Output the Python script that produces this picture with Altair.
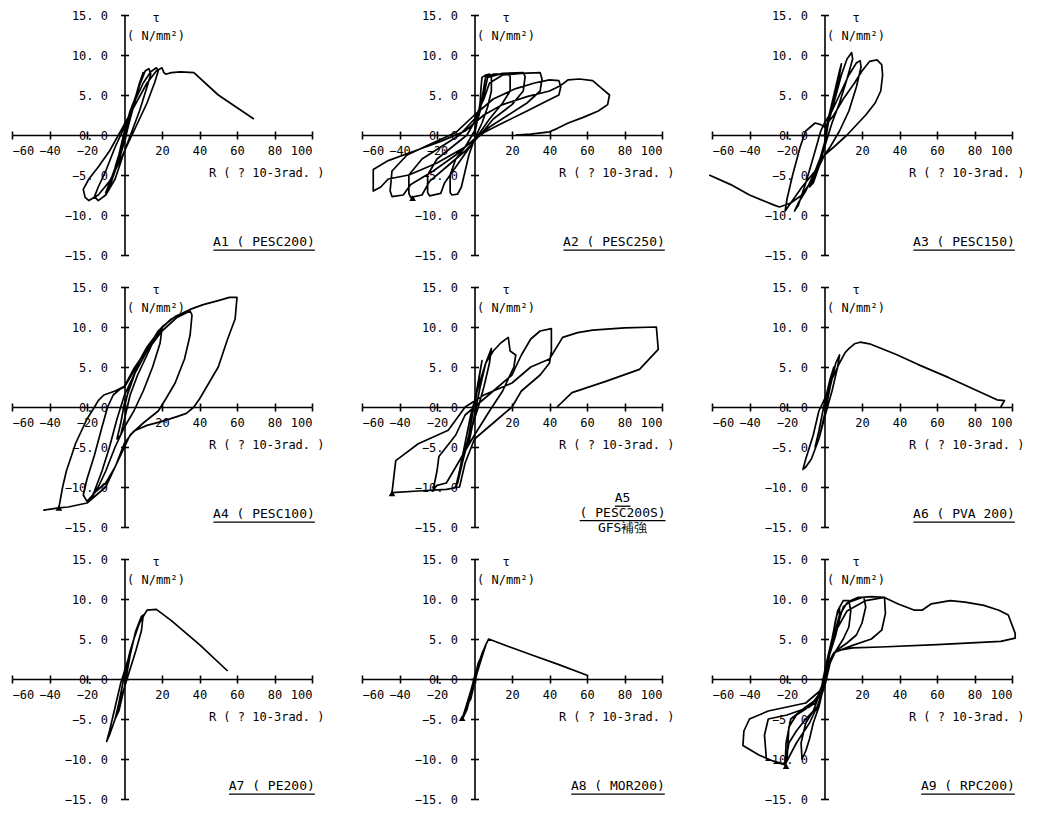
import altair as alt
import pandas as pd

# ---------------- data ----------------
X_TICKS = [-60, -40, -20, 0, 20, 40, 60, 80, 100]
Y_TICKS = [-15, -10, -5, 0, 5, 10, 15]
X_TITLE = "R ( ? 10-3rad. )"
Y_TITLE = ["τ", "( N/mm²)"]

A1_PTS = [(0,0),(2,2.0),(4,3.5),(5,4.2),(3,3.0),(0,0.5),(-3,-2.5),(-5,-4.0),(-3,-3.2),(0,-0.8),
          (3,2),(6,4.6),(9,7.0),(10,7.8),(8,6.5),(5,4.0),(2,1.2),(0,-0.5),(-4,-3.5),(-8,-6.0),
          (-10,-7.2),(-8,-6.5),(-5,-4.5),(-2,-1.8),(0,0.5),(4,3.5),(8,6.2),(11,8.0),(13,8.3),(14,7.6),
          (12,6.0),(8,3.0),(4,0.5),(0,-2.0),(-5,-5.5),(-10,-7.5),(-14,-8.2),(-16,-7.7),(-14,-6.5),
          (-10,-4.5),(-5,-1.5),(0,1.0),(5,4.0),(10,6.5),(14,7.9),(17,8.4),(18,8.0),(16,6.5),(12,4.0),
          (7,1.5),(2,-1),(-3,-3.5),(-8,-5.8),(-14,-7.5),(-19,-8.2),(-21,-7.8),(-22,-6.8),(-19,-5.5),
          (-14,-4.0),(-8,-2.0),(-2,0.5),(5,3.5),(12,6.5),(17,8.0),(20,8.4),(21,7.8),(22,7.6),(25,7.8),
          (30,7.9),(37,7.8),(50,5.0),(69,2.0)]
A1_TRI = []

A2_PTS = [(0,0),(2,2.5),(3,4),(3.5,6),(4,7.2),(6,7.5),(8,7.6),(9,7.4),(9,5.5),(7,3.5),(4,1.5),(0,-0.5),
          (-3,-2.5),(-5,-4.5),(-7,-6.5),(-9,-7.4),(-12,-7.5),(-13,-7.2),(-13,-5),(-10,-3),(-5,-1.5),
          (0,0.5),(3,3),(5,6),(6,7.3),(10,7.6),(18,7.6),(19,7.3),(19,5.5),(15,4),(8,2),(2,0),(-4,-2),
          (-10,-4),(-16,-6),(-18,-7.3),(-24,-7.6),(-25,-7.2),(-25,-5),(-20,-3),(-12,-1.5),(-4,0),
          (2,2.5),(5,5),(7,7.2),(15,7.7),(26,7.8),(27,7.3),(26,5.5),(20,3.8),(10,2),(3,0),(-5,-2),
          (-15,-4),(-24,-5.8),(-28,-7.5),(-34,-7.8),(-35,-7.3),(-35,-5),(-28,-3),(-18,-1.5),(-8,0),
          (0,2),(5,4.5),(8,6.5),(15,7.5),(25,7.7),(35,7.8),(36,7.0),(35,5.5),(28,4.0),(18,2.5),(8,1),
          (0,-0.5),(-10,-2.5),(-22,-4.5),(-34,-6.2),(-38,-7.5),(-44,-7.7),(-45,-7.0),(-44,-4.5),
          (-36,-2.5),(-24,-1.2),(-10,0.3),(0,2.5),(10,4.5),(22,5.8),(32,6.5),(40,6.9),(45,6.8),
          (46,6.0),(45,5.0),(38,4.2),(28,3.0),(15,1.5),(5,0.3),(-5,-1.5),(-20,-3.5),(-35,-5.0),
          (-46,-5.5),(-50,-6.5),(-54,-7.0),(-54,-4.3),(-46,-3.2),(-32,-2.0),(-18,-0.8),(-5,0.5),
          (5,2.5),(15,3.8),(28,4.8),(40,5.5),(46,6.2),(50,6.9),(56,7.0),(63,6.8),(68,5.8),(72,5.0),
          (71,3.8),(66,3.0),(58,2.2),(50,1.5),(44,0.8),(40,0.4),(30,0.1),(22,0)]
A2_TRI = [(-33,-7.9)]

A3_PTS = [(0,0),(3,3),(6,6),(8,8),(9,8.9),(8,7.5),(5,4.5),(2,1.5),(0,-1),(-3,-3.5),(-6,-5.5),(-8,-6.5),
          (-6,-6),(-3,-4),(0,-1.5),(2,1.5),(5,4),(9,7.5),(12,9.5),(14.5,10.3),(15,9.5),(12,7),(8,4),
          (4,1.5),(0,-1.5),(-5,-4.5),(-10,-7),(-14,-8.5),(-16,-9.5),(-14,-8.8),(-10,-6),(-5,-2),
          (-2,0.5),(0,1.5),(4,3),(8,5),(13,7.5),(17,9.0),(19,9.3),(19.5,8.5),(17,6),(13,3),(8,0.5),
          (3,-1.5),(0,-2.5),(-5,-4.5),(-12,-6.5),(-18,-8.5),(-21,-9.5),(-20,-8),(-17,-5),(-13,-1.5),
          (-10,0.5),(-5,1.5),(-2,1.3),(0,1),(5,2.5),(10,4.5),(16,6.5),(20,8),(24,9.2),(28,9.4),
          (30.5,8.8),(31,7.5),(30,5.5),(27,4.0),(22,2.5),(16,1.0),(12,0),(5,-1.5),(0,-2.5),(-5,-5),
          (-12,-7.5),(-18,-8.5),(-24,-9.0),(-26.5,-8.8),(-40,-7.5),(-50,-6.2),(-61.5,-5.0)]
A3_TRI = []

A4_PTS = [(0,0),(2,2),(5,4),(8,5.5),(6,4.5),(3,2.5),(0,0.5),(-2,-2),(-4,-4),(-2,-3.5),(0,-1.5),
          (3,1.5),(7,4),(12,6.5),(16,8.5),(20,9.8),(19,8),(15,5),(10,2),(5,-0.5),(0,-2.5),(-5,-5),
          (-10,-8),(-14,-10),(-18,-11.5),(-16,-10.5),(-12,-8),(-8,-5),(-4,-1.5),(0,1.5),(5,4),
          (12,7),(20,9.5),(28,11.2),(35,12),(36,11.5),(35,9),(32,6),(27,3),(22,1),(18,-0.5),
          (10,-2),(3,-3.5),(0,-5),(-5,-7.5),(-10,-9.5),(-15,-10.5),(-20,-11.8),(-22,-11),(-20,-9),
          (-16,-6),(-12,-2.5),(-9,0),(-6,1.5),(-2,2.3),(0,2.5),(5,4.5),(12,7.5),(20,10),(27,11.3),
          (35,12.2),(42,12.8),(50,13.3),(56,13.7),(60,13.7),(59,11),(55,8.5),(50,5),(45,3),(40,1),
          (37,0),(33,-0.8),(28,-1.2),(20,-1.8),(12,-2.3),(5,-3),(0,-4.5),(-5,-7.5),(-10,-10),
          (-20,-12),(-30,-12.5),(-35,-12.6),(-43,-12.9),(-35,-12.6),(-33,-10),(-31,-8),(-26,-4.5),
          (-20,-1.5),(-16,0),(-14,0.8),(-11,1.5),(-5,2.0),(0,2.6),(5,4.8),(10,6.5),(18,9.5),
          (25,11.0),(30,11.6),(35,12.2)]
A4_TRI = [(-35,-12.6)]

A5_PTS = [(0,0),(2,3),(4,5.8),(3,4.5),(0,0.5),(-3,-3.5),(-5,-5.5),(-3,-4.5),(0,-1),(3,2.5),(6,5.5),
          (9,7.3),(8,5.5),(5,2.5),(2,0),(-2,-3),(-6,-6.5),(-9,-9.5),(-10,-10),(-8,-8),(-5,-4.5),
          (-2,-1),(2,2.5),(6,5.5),(10,7),(14,8),(18,8.7),(19,7),(22,6.5),(21,5),(15,2),(8,-0.5),
          (0,-3.5),(-5,-5.5),(-10,-7.5),(-15,-9.5),(-20,-9.8),(-22,-10.3),(-20,-8),(-19,-6.2),
          (-15,-5),(-10,-3.5),(-5,-1),(0,0),(10,2),(20,4),(25,6.5),(30,8.5),(35,9.5),(41,9.8),
          (41,7),(40,5.5),(35,4),(25,2),(20,0),(10,-2),(0,-4),(-5,-7),(-8,-10),(-15,-10.3),
          (-30,-10.5),(-44,-10.7),(-42,-6.7),(-30,-4.6),(-14,-2.9),(-5,0),(5,1.5),(20,3),(30,5),
          (40,6),(47,8.7),(55,9.3),(63,9.6),(80,9.9),(97,10),(98,7.2),(88,4.7),(70,3.2),(52,1.8),
          (44,0)]
A5_TRI = [(-44,-10.8)]

A6_PTS = [(0,0),(3,3),(5,5),(3,3.5),(0,0.5),(-3,-3),(-5,-5),(-3,-4),(0,-1),(3,2.5),(6,5.5),(8,6.5),
          (7,5),(4,2),(1,-0.5),(-3,-4),(-7,-6.5),(-10,-7.5),(-11.5,-7.8),(-10,-6.5),(-6,-3.5),
          (-3,-0.5),(0,1),(4,3.5),(8,5.5),(11,6.8),(13,7.3),(16,7.9),(19,8.1),(24,7.9),(38,6.6),
          (50,5.3),(66,3.7),(80,2.2),(92,0.9),(96,0.8),(94,0)]
A6_TRI = []

A7_PTS = [(0,0),(3,3),(5,5),(3,3.5),(0,0.5),(-3,-3),(-5,-5),(-3,-4),(0,-1),(3,3),(6,6),(9,7.8),
          (10,8.0),(9,6),(6,3.5),(2,0.5),(-2,-2.5),(-5,-5),(-8,-7),(-9.5,-7.8),(-8,-6.5),(-5,-3.5),
          (-2,-0.5),(2,2.5),(5,5),(8,7),(11,8.2),(12,8.6),(17,8.7),(25,7.3),(40,4.3),(55,1.0)]
A7_TRI = []

A8_PTS = [(0,0),(2,1.5),(4,3),(2,2),(0,0),(-2,-2),(-4,-3.3),(-2,-2.5),(0,-0.5),(2,1.3),(4,2.8),
          (5,3.5),(3,2.5),(0,0.3),(-3,-2.5),(-5,-4),(-6,-4.8),(-4,-3.8),(-2,-2.0),(0,-0.3),(3,2),
          (5,3.5),(6,4.2),(4,3.2),(1,1),(-2,-1.5),(-5,-3.8),(-6.6,-5.0),(-5,-4.2),(-2,-2),(1,0.5),
          (4,3),(6,4.3),(7.6,5.0),(20,3.9),(30.6,3.0),(45,1.8),(60.7,0.4)]
A8_TRI = [(-6.6,-4.9)]

A9_PTS = [(0,0),(2,3),(4,5),(3,4),(0,0),(-2,-2.5),(-4,-4),(-3,-3.5),(0,-0.5),(3,3.5),(6,7.5),(8,9.0),
          (8,7.5),(6,5.5),(4,4),(2,2.5),(0,-0.5),(-3,-3.5),(-6,-5.5),(-8,-7.5),(-10,-9),(-12,-10),
          (-12.5,-8),(-10,-5.5),(-6,-4),(-2,-1.5),(1,2),(4,5),(7,8.5),(10,9.8),(13,9.8),(14,8.5),
          (13,6.5),(10,5),(6,3.5),(3,2),(0,-1),(-4,-3.5),(-10,-5),(-15,-6.5),(-19,-8),(-20.5,-10),
          (-21,-10.8),(-20.5,-8),(-18,-5),(-10,-3.5),(-4,-2.5),(0,0),(3,3.5),(6,6),(10,9),(14,9.8),
          (18,10.2),(21,10.2),(22,9),(20,7),(17,5.5),(12,4.5),(6,3.5),(2,2),(0,-1),(-8,-3.5),
          (-20,-4.5),(-30,-5.0),(-32,-7),(-31,-10),(-22,-10.6),(-20,-10.2),(-19,-6),(-15,-4.5),
          (-5,-3),(0,0),(4,4.5),(8,8),(12,9.5),(20,10.2),(25,10.3),(32,10.2),(32.5,8.2),(30.5,6.1),
          (25,5),(15,4.2),(5,3.3),(1,1.5),(0,-1),(-10,-3),(-20,-3.5),(-30,-4.0),(-40,-5.0),
          (-41,-5.5),(-43,-6.5),(-43.5,-8.3),(-35,-9.5),(-25,-10.5),(-21,-10.7),(-15,-8),(-8,-5.5),
          (-3,-3),(0,0),(3,3.5),(6,6),(12,8.5),(22,9.8),(32,10.2),(39,9.4),(48,8.6),(52,8.6),
          (57,9.4),(67,9.8),(75,9.6),(85,9.2),(93,8.6),(98,8.0),(101.7,5.7),(101.7,5.1),(94,4.7),
          (60,4.3),(30,4.0),(15,3.9),(8,3.6)]
A9_TRI = [(-20.5,-10.9)]

CAPTIONS = {
    "A1": ["A1 ( PESC200)"], "A2": ["A2 ( PESC250)"], "A3": ["A3 ( PESC150)"],
    "A4": ["A4 ( PESC100)"], "A5": ["A5", "( PESC200S)", "GFS補強"], "A6": ["A6 ( PVA 200)"],
    "A7": ["A7 ( PE200)"], "A8": ["A8 ( MOR200)"], "A9": ["A9 ( RPC200)"],
}

PANELS = [("A1", A1_PTS, A1_TRI), ("A2", A2_PTS, A2_TRI), ("A3", A3_PTS, A3_TRI),
          ("A4", A4_PTS, A4_TRI), ("A5", A5_PTS, A5_TRI), ("A6", A6_PTS, A6_TRI),
          ("A7", A7_PTS, A7_TRI), ("A8", A8_PTS, A8_TRI), ("A9", A9_PTS, A9_TRI)]

# ---------------- layout ----------------
W, H = 300, 240
XMIN, XMAX = -60, 100
PX_PER_R = W / (XMAX - XMIN)
CHAR_W = 7.8          # mono font 13px advance
FONT = "DejaVu Sans Mono"

xscale = alt.Scale(domain=[XMIN, XMAX], nice=False, zero=False)
yscale = alt.Scale(domain=[-15, 15], nice=False, zero=False)

AX = dict(grid=False, domainColor="black", tickColor="black", domainWidth=1.6, tickWidth=1.6,
          tickSize=4, labelColor="black", labelFont=FONT, labelFontSize=12, titleColor="black")


def make_panel(name, pts, tris):
    df = pd.DataFrame(pts, columns=["R", "T"])
    df["i"] = range(len(df))

    line = alt.Chart(df).mark_line(color="black", strokeWidth=1.7, strokeJoin="round").encode(
        x=alt.X("R:Q", scale=xscale, axis=alt.Axis(
            orient="bottom", offset=-H / 2, values=X_TICKS,
            labelExpr="datum.value == 0 ? '' : datum.label",
            labelPadding=6, title=X_TITLE, titleX=W + 12, titleY=37,
            titleAlign="right", titleBaseline="middle", titleFont=FONT,
            titleFontSize=12, titleFontWeight="normal", **AX)),
        y=alt.Y("T:Q", scale=yscale, axis=alt.Axis(
            orient="left", offset=-W * (-XMIN) / (XMAX - XMIN), values=Y_TICKS,
            labelExpr="replace(format(datum.value, '.1f'), '.', '. ')",
            labelPadding=13, title=Y_TITLE, titleAngle=0, titleX=31, titleY=-3,
            titleAlign="center", titleBaseline="top", titleLineHeight=18,
            titleFont=FONT, titleFontSize=12, titleFontWeight="normal", **AX)),
        order="i:Q",
    )

    # caption text (also carries the opposite-side tick marks so ticks cross the axes)
    lines = CAPTIONS[name]
    if name == "A5":
        cx, align = 79, "center"
        ys = [-11.9, -13.7, -15.6]
    else:
        cx, align = 101.5, "right"
        ys = [-13.9]
    cap = pd.DataFrame({"R": [cx] * len(lines), "T": ys, "label": lines})
    caption = alt.Chart(cap).mark_text(align=align, baseline="alphabetic", font=FONT,
                                       fontSize=13, color="black").encode(
        x=alt.X("R:Q", scale=xscale, axis=alt.Axis(
            orient="top", offset=-H / 2, values=X_TICKS, labels=False, domain=False, title=None,
            grid=False, tickColor="black", tickWidth=1.6, tickSize=4)),
        y=alt.Y("T:Q", scale=yscale, axis=alt.Axis(
            orient="right", offset=-W * XMAX / (XMAX - XMIN), values=Y_TICKS, labels=False,
            domain=False, title=None, grid=False, tickColor="black", tickWidth=1.6, tickSize=4)),
        text="label:N",
    )

    # underline of caption lines (not the GFS line)
    ul_rows = []
    n_ul = 2 if name == "A5" else 1
    for k in range(n_ul):
        wdata = len(lines[k]) * CHAR_W / PX_PER_R
        if align == "right":
            r1, r2 = cx - wdata, cx
        else:
            r1, r2 = cx - wdata / 2, cx + wdata / 2
        ul_rows.append({"R1": r1, "R2": r2, "T": ys[k] - 0.5})
    under = alt.Chart(pd.DataFrame(ul_rows)).mark_rule(color="black", strokeWidth=1.3).encode(
        x=alt.X("R1:Q", scale=xscale, axis=None),
        x2="R2:Q",
        y=alt.Y("T:Q", scale=yscale, axis=None),
    )

    layers = [line, caption, under]
    if tris:
        tdf = pd.DataFrame(tris, columns=["R", "T"])
        tri = alt.Chart(tdf).mark_point(shape="triangle-up", filled=True, size=45,
                                         color="black", opacity=1).encode(
            x=alt.X("R:Q", scale=xscale, axis=None),
            y=alt.Y("T:Q", scale=yscale, axis=None),
        )
        layers.append(tri)

    return alt.layer(*layers).resolve_axis(x="independent", y="independent").properties(
        width=W, height=H)


charts = [make_panel(n, p, t) for n, p, t in PANELS]

chart = alt.concat(*charts, columns=3, spacing={"row": 32, "column": 50}, bounds="flush").properties(
    padding={"left": 3, "top": 1, "right": 0, "bottom": 0}, background="white"
).configure_view(stroke=None).configure_axis(grid=False)

chart.save("out.html", embed_options={"renderer": "svg", "actions": False})
